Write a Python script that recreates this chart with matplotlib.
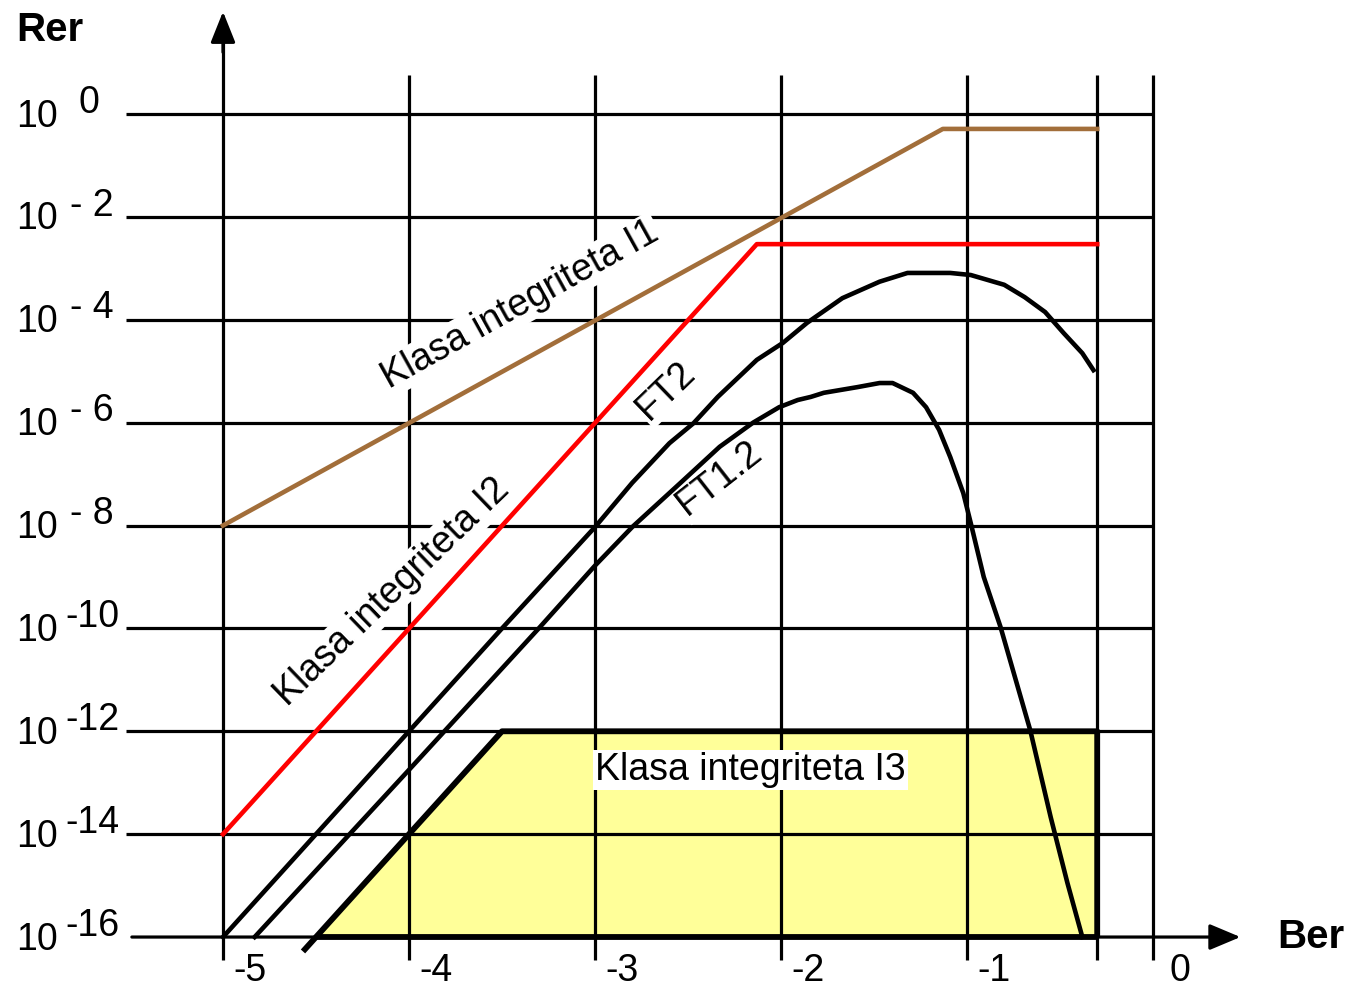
import numpy as np
import matplotlib
matplotlib.use("Agg")
from matplotlib import pyplot as plt

plt.rcParams['font.family'] = ['Liberation Sans', 'DejaVu Sans']

# log10 axis values
x_ticks = [-5, -4, -3, -2, -1, 0]
x_extra = -0.3
y_decades = [0, -2, -4, -6, -8, -10, -12, -14, -16]
y_exp_labels = ["0", "- 2", "- 4", "- 6", "- 8", "-10", "-12", "-14", "-16"]

# integrity class limits
i1_x = [-5.0, -1.13, -0.3]
i1_y = [-8.0, -0.29, -0.29]
i2_x = [-5.0, -2.13, -0.3]
i2_y = [-14.0, -2.53, -2.53]
i3_x = [-4.57, -3.5, -0.3, -0.3]
i3_y = [-16.28, -12.0, -12.0, -16.0]

# curves
ft2_x = [-5.0, -4.0, -3.5, -3.0, -2.8, -2.6, -2.47, -2.34, -2.13, -1.99, -1.86, -1.67,
         -1.47, -1.32, -1.09, -0.98, -0.80, -0.69, -0.58, -0.48, -0.38, -0.32]
ft2_y = [-16.0, -12.0, -10.0, -8.03, -7.17, -6.40, -6.01, -5.50, -4.78, -4.45, -4.06, -3.58,
         -3.26, -3.09, -3.09, -3.13, -3.32, -3.56, -3.85, -4.26, -4.65, -4.98]
ft12_x = [-4.83, -4.0, -3.3, -3.0, -2.8, -2.54, -2.33, -2.15, -2.01, -1.91, -1.84,
          -1.77, -1.59, -1.47, -1.40, -1.29, -1.22, -1.15, -1.09, -1.02, -0.98,
          -0.91, -0.82, -0.66, -0.55, -0.46, -0.38]
ft12_y = [-16.0, -12.75, -9.99, -8.78, -8.03, -7.17, -6.47, -6.0, -5.70, -5.56, -5.50,
          -5.42, -5.31, -5.23, -5.23, -5.42, -5.70, -6.14, -6.67, -7.37, -7.95,
          -9.0, -9.97, -11.98, -13.67, -14.95, -16.0]

brown = '#A26E3A'
yellow = '#FFFF99'

fig = plt.figure(figsize=(13.52, 9.9), dpi=100)
ax = fig.add_axes([0, 0, 1, 1])
ax.set_xlim(-5 - 223 / 186, -5 + (1352 - 223) / 186)
ax.set_ylim(-(990 - 114) / 51.44, 114 / 51.44)
ax.axis('off')

grid_lw = 2.3
# horizontal grid
ax.hlines(y_decades[:-1], -5.52, 0, color='k', lw=grid_lw, zorder=2)
# vertical grid
vx = [x for x in x_ticks if x != -5] + [x_extra]
ax.vlines(vx, -16.45, 0.76, color='k', lw=grid_lw, zorder=2)
ax.vlines(-5, -16.45, 1.5, color='k', lw=grid_lw, zorder=2)
# axes arrows
ax.annotate('', xy=(0.47, -16), xytext=(-5.49, -16),
            arrowprops=dict(arrowstyle='-|>,head_length=1.0,head_width=0.42',
                            lw=grid_lw, color='k', mutation_scale=19,
                            shrinkA=0, shrinkB=0), zorder=2)
ax.annotate('', xy=(-5, 1.99), xytext=(-5, 1.2),
            arrowprops=dict(arrowstyle='-|>,head_length=1.0,head_width=0.4',
                            lw=grid_lw, color='k', mutation_scale=19,
                            shrinkA=0, shrinkB=0), zorder=2)

# class I3 area
fx = np.array(i3_x)
fy = np.array(i3_y)
ax.fill_between(fx, fy, -16, where=fy >= -16, interpolate=True,
                color=yellow, lw=0, zorder=1)
ax.plot(fx, fy, color='k', lw=4.2, zorder=4, solid_capstyle='butt')
ax.hlines(-16, -4.5, -0.3, color='k', lw=4.2, zorder=4)

line_lw = 3.3
ax.plot(i1_x, i1_y, color=brown, lw=line_lw, zorder=4)
ax.plot(i2_x, i2_y, color='red', lw=line_lw, zorder=4)
ax.plot(ft2_x, ft2_y, color='k', lw=line_lw, zorder=4)
ax.plot(ft12_x, ft12_y, color='k', lw=line_lw, zorder=4)

fs = 27
wbox = dict(boxstyle='square,pad=0.05', fc='white', ec='none')
ax.text(-3.40, -3.71, 'Klasa integriteta I1', fontsize=fs, rotation=29,
        ha='center', va='center', rotation_mode='anchor', bbox=wbox, zorder=3)
ax.text(-4.09, -9.29, 'Klasa integriteta I2', fontsize=fs, rotation=44,
        ha='center', va='center', rotation_mode='anchor', bbox=wbox, zorder=3)
ax.text(-2.62, -5.37, 'FT2', fontsize=fs, rotation=44,
        ha='center', va='center', rotation_mode='anchor', bbox=wbox, zorder=3)
ax.text(-2.33, -7.08, 'FT1.2', fontsize=fs, rotation=38,
        ha='center', va='center', rotation_mode='anchor', bbox=wbox, zorder=3)
ax.text(-3.0, -12.75, 'Klasa integriteta I3', fontsize=fs,
        ha='left', va='center', bbox=wbox, zorder=3)

# tick labels
ytr = ax.get_yaxis_transform()
for d, e in zip(y_decades, y_exp_labels):
    ax.text(16 / 1352, d - 0.05, '10', fontsize=fs, ha='left', va='center', transform=ytr)
    if e == "0":
        ex = 78
    elif ' ' in e:
        ex = 70
    else:
        ex = 65
    ax.text(ex / 1352, d + 0.22, e, fontsize=fs, ha='left', va='center', transform=ytr)
for x in x_ticks:
    ax.text(x + 0.145, -16.66, str(x), fontsize=fs, ha='center', va='center')

ax.text(16 / 1352, 1.63, 'Rer', fontsize=29, fontweight='bold', ha='left', va='center', transform=ytr)
ax.text(1277 / 1352, -16.0, 'Ber', fontsize=29, fontweight='bold', ha='left', va='center', transform=ytr)

plt.savefig('out.png', dpi=100)
